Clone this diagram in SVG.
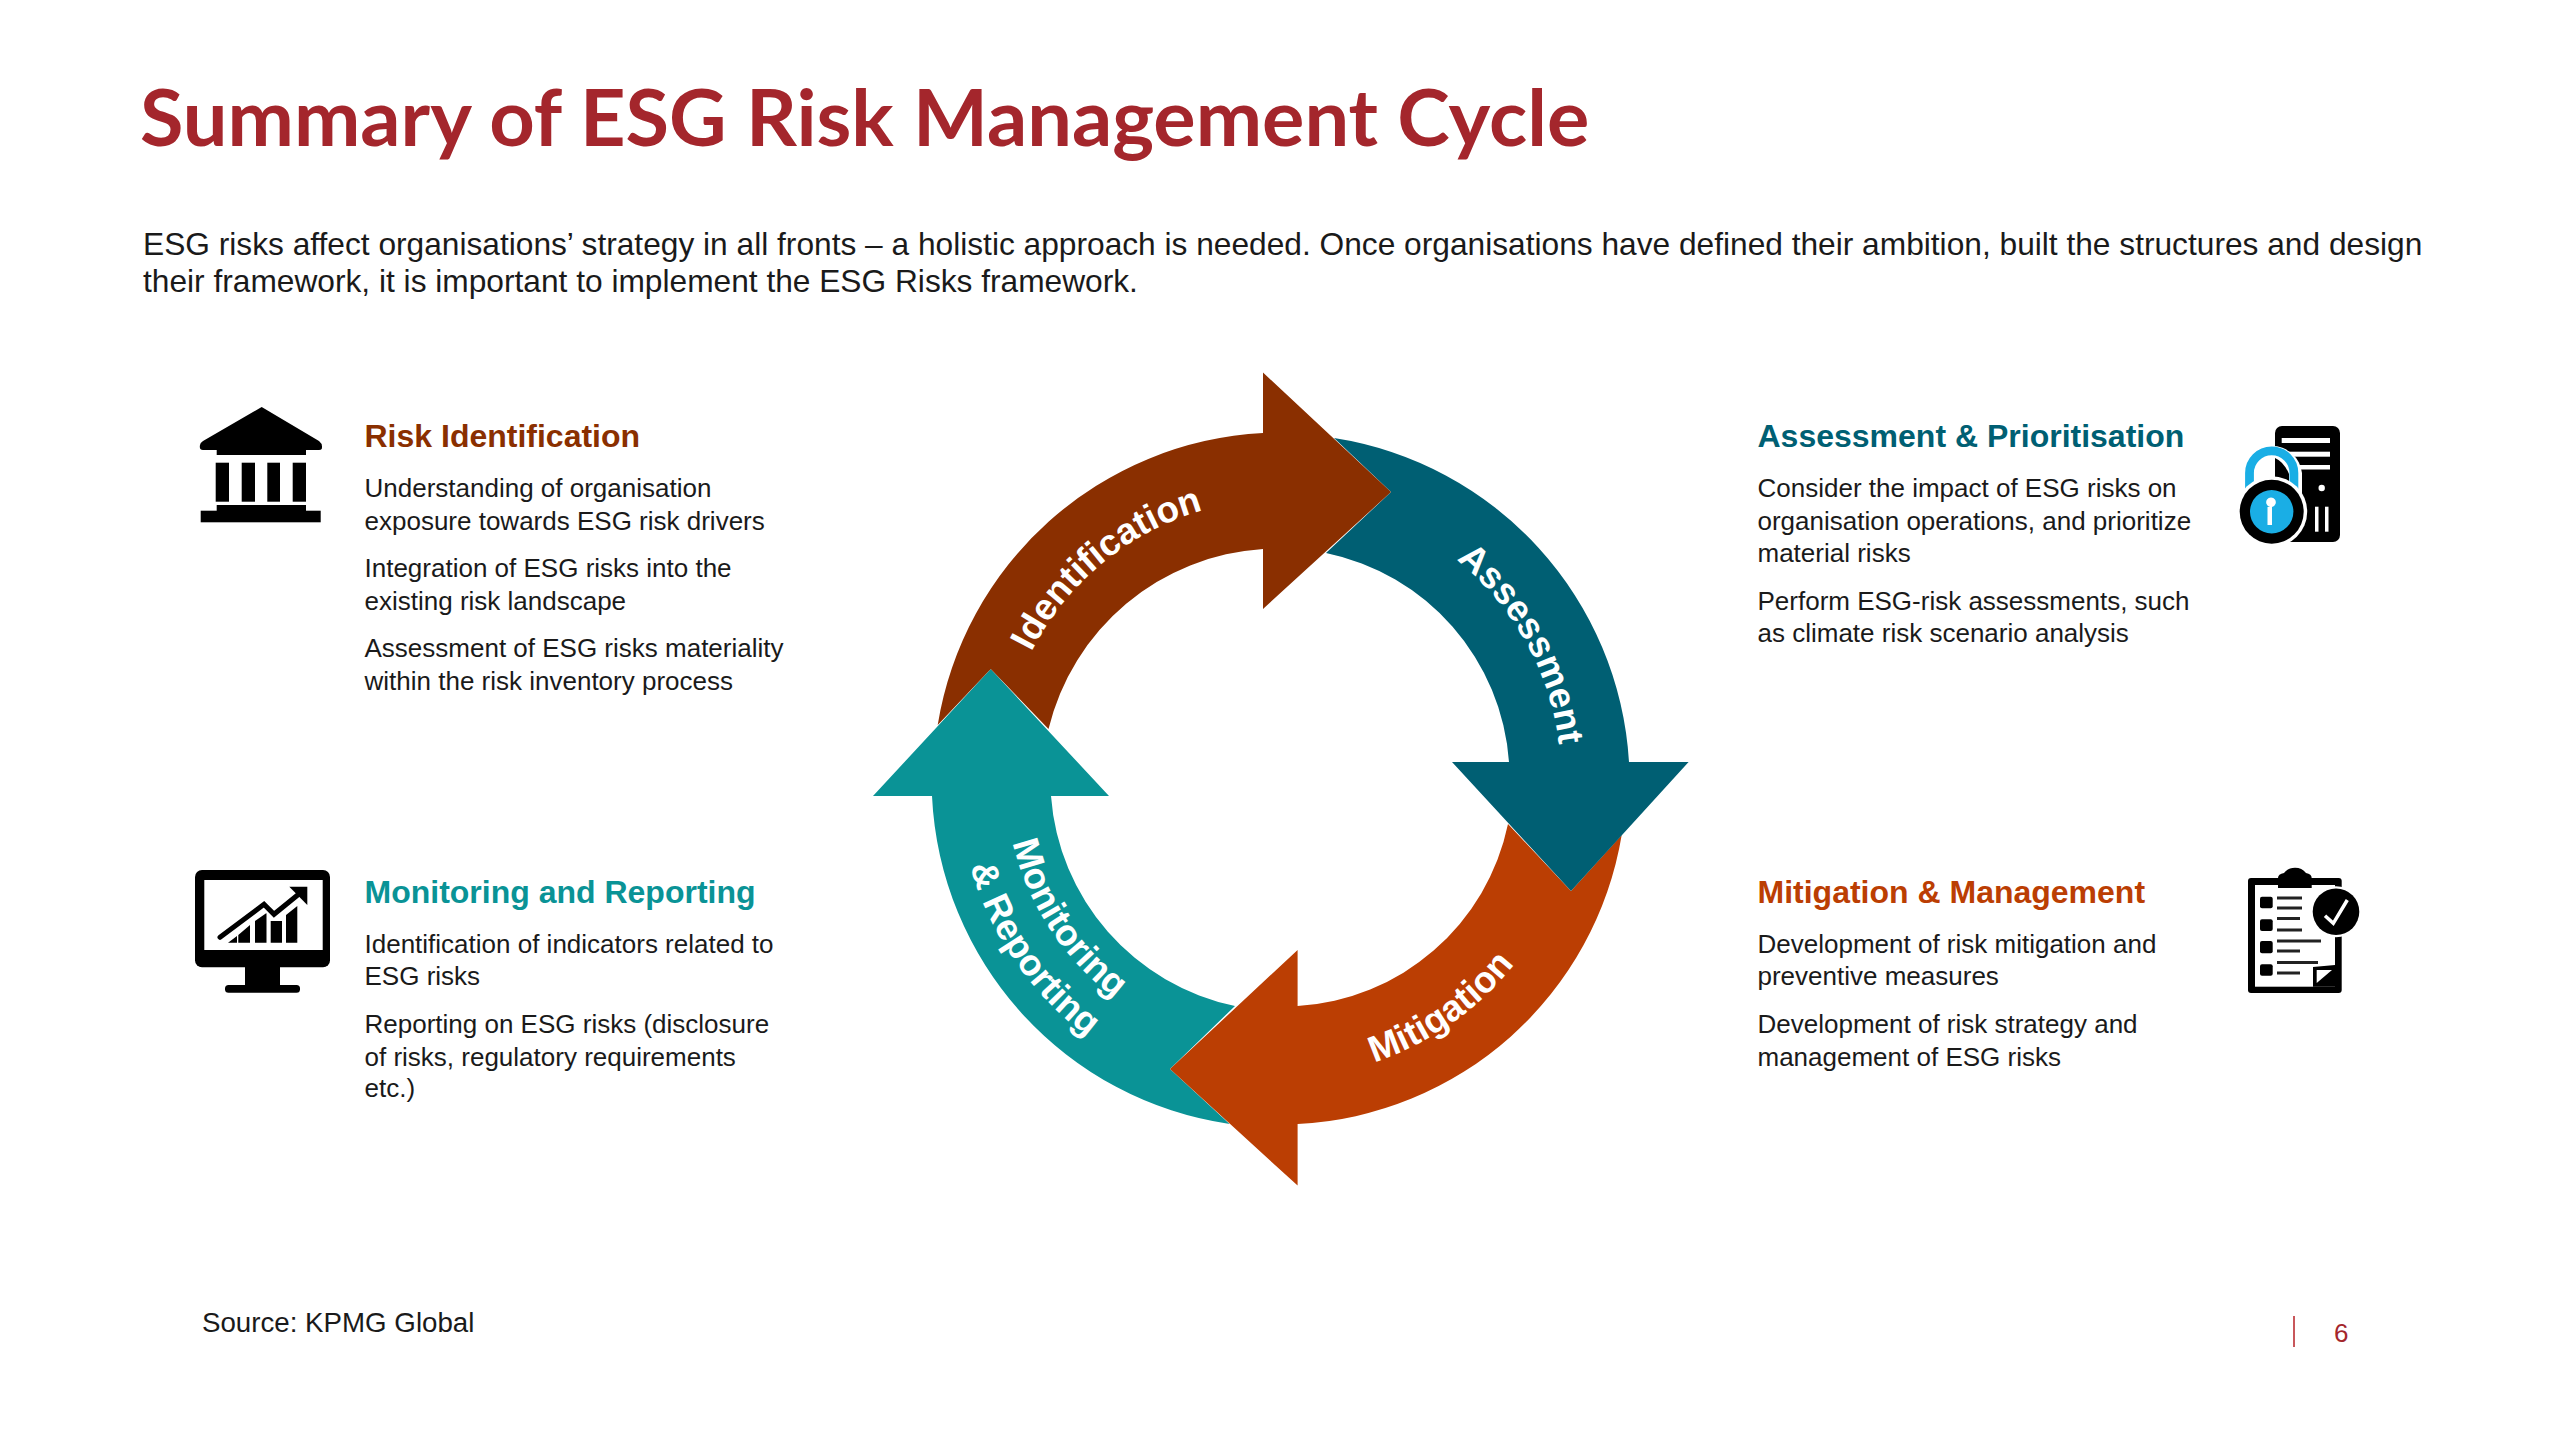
<svg xmlns="http://www.w3.org/2000/svg" width="2560" height="1440" viewBox="0 0 2560 1440">
<style>
text{font-family:"Liberation Sans",Arial,sans-serif;fill:#1a1a1a}
.title{font-family:Lato,"Liberation Sans",sans-serif;font-weight:700;font-size:79.3px;fill:#a4262c}
.intro{font-size:31.7px}
.h{font-size:32px;font-weight:700}
.b{font-size:26px}
.ring{font-size:36.8px;font-weight:700;fill:#fff;text-anchor:middle}
.k{fill:#000}
.w{fill:#fff}
</style>
<defs>
<path id="pI" d="M1001 778.5A279 279 0 0 1 1333.2 504.6"/>
<path id="pA" d="M1333.6 502.7A281 281 0 0 1 1542.3 879.2"/>
<path id="pMi" d="M1202.6 1067.3A299 299 0 0 0 1577.9 804.6"/>
<path id="pMo" d="M1016.6 699.5A275 275 0 0 0 1248 1051.6"/>
<path id="pR" d="M969.6 693A322 322 0 0 0 1249.7 1099.1"/>
</defs>
<rect width="2560" height="1440" fill="#fff"/>
<g id="header">
<text class="title" x="140" y="146">Summary of ESG Risk Management Cycle</text>
<text class="intro" x="143" y="255">ESG risks affect organisations’ strategy in all fronts – a holistic approach is needed. Once organisations have defined their ambition, built the structures and design</text>
<text class="intro" x="143" y="292">their framework, it is important to implement the ESG Risks framework.</text>
</g>
<g id="connectors">
<path id="arrow-monitoring" fill="#0a9396" d="M1051 796H1109L990.7 669L873 796H932A348 348 0 0 0 1229.600 1124L1170 1069L1235 1006A232 232 0 0 1 1051 796Z"/>
<path id="arrow-mitigation" fill="#bb3e03" d="M1297.6 1006V950L1170 1069L1297.6 1185.6V1124A346 346 0 0 0 1621.700 835L1571 891L1508 824A229 229 0 0 1 1297.6 1006Z"/>
<path id="arrow-assessment" fill="#005f73" d="M1509 762H1452L1571 891L1688.6 762H1629A349 349 0 0 0 1334 438L1391 492L1326 553A230 230 0 0 1 1509 762Z"/>
<path id="arrow-identification" fill="#8a2f00" d="M1263 549V609L1391 492L1263 372.5V433A348 348 0 0 0 937.7 725L990.7 669L1048.5 729A236 236 0 0 1 1263 549Z"/>
</g>
<g id="ring-labels">
<text class="ring"><textPath href="#pI" startOffset="50%">Identification</textPath></text>
<text class="ring"><textPath href="#pA" startOffset="50%">Assessment</textPath></text>
<text class="ring"><textPath href="#pMi" startOffset="50%">Mitigation</textPath></text>
<text class="ring"><textPath href="#pMo" startOffset="50%">Monitoring</textPath></text>
<text class="ring"><textPath href="#pR" startOffset="50%">&amp; Reporting</textPath></text>
</g>
<g id="risk-identification">
<g id="icon-bank" class="k">
<path d="M261.7 407L319 441Q323 444 321.7 449Q321 450 319 450H306V455H216.7V450H203Q199 450 200 445Q200 443 203 441Z"/>
<rect x="215.7" y="462.7" width="13.3" height="39"/><rect x="241.7" y="462.7" width="13.3" height="39"/><rect x="267.3" y="462.7" width="12.7" height="39"/><rect x="292.7" y="462.7" width="13.3" height="39"/>
<rect x="216.7" y="505" width="89.3" height="6"/><rect x="200.7" y="510.7" width="120" height="11.6"/>
</g>
<text class="h" x="364.500" y="447" style="fill:#8a2f00">Risk Identification</text>
<text class="b" x="364.500" y="497">Understanding of organisation</text>
<text class="b" x="364.500" y="530">exposure towards ESG risk drivers</text>
<text class="b" x="364.500" y="577">Integration of ESG risks into the</text>
<text class="b" x="364.500" y="610">existing risk landscape</text>
<text class="b" x="364.500" y="657">Assessment of ESG risks materiality</text>
<text class="b" x="364.500" y="690">within the risk inventory process</text>
</g>
<g id="assessment-prioritisation">
<g id="icon-lock">
<rect class="k" x="2275" y="426" width="65" height="116" rx="7"/>
<g class="w"><rect x="2281.7" y="438" width="48.3" height="5"/><rect x="2281.7" y="451.7" width="48.3" height="5"/><rect x="2281.7" y="465" width="48.3" height="4.5"/><circle cx="2321.7" cy="488" r="3.2"/><rect x="2315" y="506.7" width="3.5" height="25"/><rect x="2325" y="506.7" width="3.5" height="25"/></g>
<path d="M2241 495V473A30.700 30.700 0 0 1 2302 473V495Z" fill="#fff"/>
<path d="M2275 458Q2284 462 2289 474V495H2275Z" class="k"/>
<path d="M2249.500 495V473A22.200 22.200 0 0 1 2293.900 473V495" fill="none" stroke="#1aaee5" stroke-width="8.800"/>
<circle cx="2271.7" cy="511.7" r="35.5" class="w"/>
<circle cx="2271.7" cy="511.7" r="32" class="k"/>
<circle cx="2271.7" cy="511.7" r="21.7" fill="#1aaee5"/>
<path d="M2270 507A4.8 4.8 0 1 1 2272 507V525H2267.5V507Z" class="w"/>
</g>
<text class="h" x="1757.500" y="447" style="fill:#005f73">Assessment &amp; Prioritisation</text>
<text class="b" x="1757.500" y="497">Consider the impact of ESG risks on</text>
<text class="b" x="1757.500" y="530">organisation operations, and prioritize</text>
<text class="b" x="1757.500" y="562">material risks</text>
<text class="b" x="1757.500" y="610">Perform ESG-risk assessments, such</text>
<text class="b" x="1757.500" y="642">as climate risk scenario analysis</text>
</g>
<g id="monitoring-reporting">
<g id="icon-monitor">
<rect class="k" x="195" y="870" width="135" height="97.3" rx="7"/>
<rect class="w" x="204.3" y="880" width="118.4" height="70"/>
<rect class="k" x="245" y="967" width="35" height="18"/>
<rect class="k" x="225" y="985" width="75" height="7.7" rx="3.5"/>
<path class="k" d="M228 942.7L237 936V942.7ZM238.3 942.7V935L250 925V942.7ZM255 942.7V921L266.5 913V942.7ZM270.7 942.7V921L282 921V942.7ZM286 942.7V915L297.3 906V942.7Z"/>
<path d="M220 937.3L264 904.3L274 914.3L301.7 891.7" fill="none" stroke="#fff" stroke-width="9"/>
<path d="M220 937.3L264 904.3L274 914.3L301.7 891.7" fill="none" stroke="#000" stroke-width="5" stroke-linecap="round"/>
<path class="k" d="M289.3 886.7H307.3V905Z"/>
</g>
<text class="h" x="364.500" y="903" style="fill:#0a9396">Monitoring and Reporting</text>
<text class="b" x="364.500" y="953">Identification of indicators related to</text>
<text class="b" x="364.500" y="985">ESG risks</text>
<text class="b" x="364.500" y="1033">Reporting on ESG risks (disclosure</text>
<text class="b" x="364.500" y="1066">of risks, regulatory requirements</text>
<text class="b" x="364.500" y="1097">etc.)</text>
</g>
<g id="mitigation-management">
<g id="icon-clipboard">
<rect class="k" x="2248" y="878" width="93.7" height="115" rx="3"/>
<rect class="w" x="2255" y="885" width="80" height="101.7"/>
<path class="k" d="M2278 888V878Q2278 874 2284 873Q2288 867.7 2295 867.7Q2302 867.7 2306 873Q2311.7 874 2311.7 878V888Z"/>
<g class="k"><rect x="2260" y="896.7" width="12.7" height="11.6" rx="2"/><rect x="2260" y="919.3" width="12.7" height="11.7" rx="2"/><rect x="2260" y="941" width="12.7" height="12.3" rx="2"/><rect x="2260" y="964.3" width="12.7" height="11.4" rx="2"/></g>
<path d="M2277 898H2302M2277 908H2302M2277 918.500H2300M2277 930H2302M2277 941H2321M2277 951H2300M2277 962.500H2318M2277 973H2300" stroke="#222" stroke-width="3" fill="none"/>
<path class="k" d="M2313 986.700V967L2335 965V986.700Z"/>
<path class="w" d="M2316.700 970H2332L2316.700 983Z"/>
<circle cx="2336" cy="911.700" r="25.500" class="w"/>
<circle cx="2336" cy="911.700" r="23.300" class="k"/>
<path d="M2325 915.700L2333.300 923.300L2347.300 900" fill="none" stroke="#fff" stroke-width="3.500"/>
</g>
<text class="h" x="1757.500" y="903" style="fill:#bb3e03">Mitigation &amp; Management</text>
<text class="b" x="1757.500" y="953">Development of risk mitigation and</text>
<text class="b" x="1757.500" y="985">preventive measures</text>
<text class="b" x="1757.500" y="1033">Development of risk strategy and</text>
<text class="b" x="1757.500" y="1066">management of ESG risks</text>
</g>
<g id="footer">
<text x="202" y="1332" font-size="27.700">Source: KPMG Global</text>
<path d="M2294 1316V1347" stroke="#c8575b" stroke-width="2"/>
<text x="2334" y="1342" font-size="26" style="fill:#a4262c">6</text>
</g>
</svg>
